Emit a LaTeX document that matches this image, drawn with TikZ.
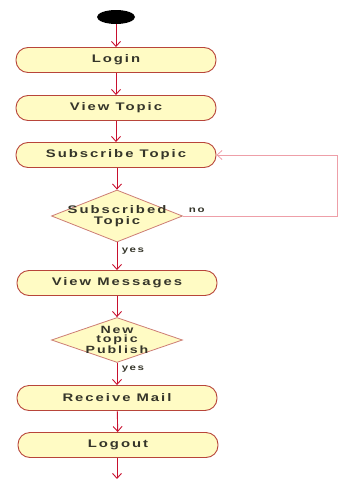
\documentclass[tikz,border=0pt]{standalone}
\usepackage{fontspec}
\setmainfont{Liberation Sans}[FakeStretch=1.35, LetterSpace=18]
\usetikzlibrary{shapes.geometric,arrows.meta}
\definecolor{boxfill}{HTML}{FFFBC4}
\definecolor{boxline}{HTML}{B8453A}
\definecolor{flow}{HTML}{C8102E}
\definecolor{loopc}{HTML}{EE9FA8}
\definecolor{txt}{HTML}{35352A}
\begin{document}
\begin{tikzpicture}[x=1pt,y=-1pt,
  act/.style={draw=boxline, fill=boxfill, line width=0.9pt, rounded corners=12pt,
    minimum width=200pt, minimum height=25pt, inner sep=0pt,
    font=\fontsize{11}{12}\selectfont\bfseries, text=txt},
  dec/.style={diamond, draw=boxline!70, fill=boxfill, line width=0.8pt, inner sep=0pt},
  dtext/.style={font=\fontsize{11}{10.5}\selectfont\bfseries, text=txt, align=center},
  flw/.style={draw=flow, line width=0.9pt, -{Straight Barb[length=5pt,width=9pt]}},
  lbl/.style={font=\fontsize{8.5}{9}\selectfont\bfseries, text=txt}
]
\useasboundingbox (0,0) rectangle (339,479);
\node[ellipse, fill=black, minimum width=38pt, minimum height=14pt, inner sep=0pt] (start) at (116,17) {};
\node[act] (login) at (116,60) {Login};
\node[act] (view) at (116,108) {View Topic};
\node[act] (sub) at (116,155) {Subscribe Topic};
\node[dec, minimum width=131pt, minimum height=52pt,
  label={[dtext]center:Subscribed\\Topic}] (d1) at (117,216) {};
\node[act] (msg) at (117,283) {View Messages};
\node[dec, minimum width=131pt, minimum height=45pt,
  label={[dtext, font=\fontsize{10.5}{9.5}\selectfont\bfseries]center:New\\topic\\Publish}] (d2) at (117,340) {};
\node[act] (mail) at (117,398) {Receive Mail};
\node[act] (logout) at (118,445) {Logout};
\coordinate (end) at (117,479);
\coordinate (cr1) at (337,216);
\coordinate (cr2) at (337,155);

\draw[flw] (start) -- (login);
\draw[flw] (login) -- (view);
\draw[flw] (view) -- (sub);
\draw[flw] (sub.south -| d1.north) -- (d1.north);
\draw[flw] (d1.south) -- node[lbl, right=1pt, pos=0.3] (y1) {yes} (d1.south |- msg.north);
\draw[flw] (msg.south -| d2.north) -- (d2.north);
\draw[flw] (d2.south) -- node[lbl, right=1pt, pos=0.3] (y2) {yes} (d2.south |- mail.north);
\draw[flw] (mail) -- (logout);
\draw[flw] (logout.south -| end) -- (end);
\draw[draw=loopc, line width=0.8pt, -{Straight Barb[length=5pt,width=9pt]}]
  (d1.east) -- node[lbl, above=0pt, pos=0.09] (no) {no} (cr1) -- (cr2) -- (sub.east);
\end{tikzpicture}
\end{document}
